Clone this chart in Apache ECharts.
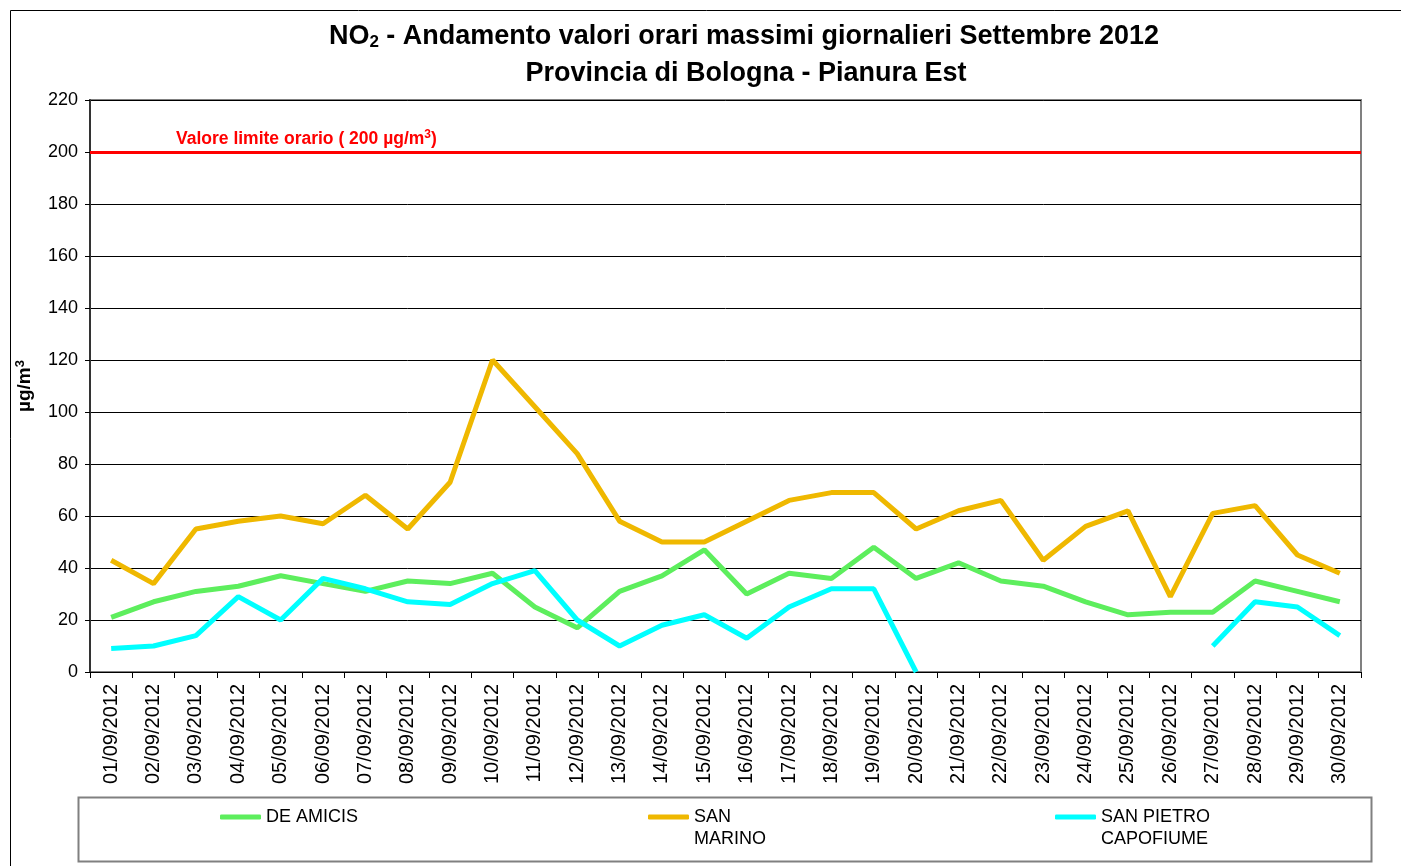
<!DOCTYPE html>
<html>
<head>
<meta charset="utf-8">
<script src="https://cdn.jsdelivr.net/npm/echarts@6/dist/echarts.min.js"></script>
<style>
  html, body { margin: 0; padding: 0; background: #fff; }
  #chart { width: 1401px; height: 866px; }
</style>
</head>
<body>
<div id="chart"></div>
<script>
// giorni di settembre 2012
const categories = [
  '01/09/2012', '02/09/2012', '03/09/2012', '04/09/2012', '05/09/2012',
  '06/09/2012', '07/09/2012', '08/09/2012', '09/09/2012', '10/09/2012',
  '11/09/2012', '12/09/2012', '13/09/2012', '14/09/2012', '15/09/2012',
  '16/09/2012', '17/09/2012', '18/09/2012', '19/09/2012', '20/09/2012',
  '21/09/2012', '22/09/2012', '23/09/2012', '24/09/2012', '25/09/2012',
  '26/09/2012', '27/09/2012', '28/09/2012', '29/09/2012', '30/09/2012'
];
const deAmicis = [21, 27, 31, 33, 37, 34, 31, 35, 34, 38, 25, 17, 31, 37, 47, 30, 38, 36, 48, 36, 42, 35, 33, 27, 22, 23, 23, 35, 31, 27];
const sanMarino = [43, 34, 55, 58, 60, 57, 68, 55, 73, 120, 102, 84, 58, 50, 50, 58, 66, 69, 69, 55, 62, 66, 43, 56, 62, 29, 61, 64, 45, 38];
const sanPietro = [9, 10, 14, 29, 20, 36, 32, 27, 26, 34, 39, 20, 10, 18, 22, 13, 25, 32, 32, 0, null, null, null, null, null, null, 10, 27, 25, 14];
const limiteOrario = 200;
const yTicks = { min: 0, max: 220, step: 20 };

const FONT = '"Liberation Sans", Arial, sans-serif';

const chart = echarts.init(document.getElementById('chart'));

// legenda: testo su due righe con la prima allineata al simbolo
const legendCommon = {
  padding: 0,
  icon: 'roundRect', itemWidth: 41, itemHeight: 5, itemGap: 3,
  textStyle: { fontFamily: FONT, fontSize: 18, color: '#000', lineHeight: 22 }
};

const option = {
  backgroundColor: '#fff',
  animation: false,
  textStyle: { fontFamily: FONT, color: '#000' },
  title: [
    {
      text: '{b|NO}{sub|2}{b| - Andamento valori orari massimi giornalieri Settembre 2012}',
      left: 744,
      top: 22,
      padding: 0,
      textAlign: 'center',
      textStyle: {
        rich: {
          b: { fontFamily: FONT, fontWeight: 'bold', fontSize: 27, color: '#000' },
          sub: { fontFamily: FONT, fontWeight: 'bold', fontSize: 17, color: '#000', verticalAlign: 'bottom', padding: [12, 0, 0, 0] }
        }
      }
    },
    {
      text: 'Provincia di Bologna - Pianura Est',
      left: 746,
      top: 60,
      padding: 0,
      textAlign: 'center',
      textStyle: { fontFamily: FONT, fontWeight: 'bold', fontSize: 27, color: '#000' }
    }
  ],
  grid: {
    left: 90,
    right: 40,
    top: 100,
    bottom: 194,
    show: true,
    borderColor: '#808080',
    borderWidth: 2,
    backgroundColor: '#fff'
  },
  legend: [
    Object.assign({}, legendCommon, {
      data: ['DE AMICIS'],
      left: 220, top: 806
    }),
    Object.assign({}, legendCommon, {
      data: ['SAN MARINO'],
      left: 648, top: 784,
      formatter: n => '\u00a0\n' + n.replace(' ', '\n')
    }),
    Object.assign({}, legendCommon, {
      data: ['SAN PIETRO CAPOFIUME'],
      left: 1055, top: 784,
      formatter: n => '\u00a0\n' + n.replace('O C', 'O\nC')
    })
  ],
  xAxis: {
    type: 'category',
    data: categories,
    boundaryGap: true,
    axisLine: { lineStyle: { color: '#000', width: 1 } },
    axisTick: { show: true, interval: 0, length: 6, lineStyle: { color: '#000' } },
    axisLabel: { interval: 0, rotate: 90, fontFamily: FONT, fontSize: 20, color: '#000', margin: 12 },
    splitLine: { show: false }
  },
  yAxis: {
    type: 'value',
    min: yTicks.min,
    max: yTicks.max,
    interval: yTicks.step,
    name: 'µg/m{sup|3}',
    nameLocation: 'middle',
    nameRotate: 90,
    nameGap: 54,
    nameTextStyle: {
      fontFamily: FONT, fontWeight: 'bold', fontSize: 19, color: '#000',
      rich: { sup: { fontFamily: FONT, fontWeight: 'bold', fontSize: 13, color: '#000', verticalAlign: 'top', padding: [0, 0, 9, 0] } }
    },
    axisLine: { show: true, lineStyle: { color: '#333', width: 2 } },
    axisTick: { show: true, length: 5, lineStyle: { color: '#000' } },
    axisLabel: { fontFamily: FONT, fontSize: 18, color: '#000', margin: 12 },
    splitLine: { show: true, lineStyle: { color: '#000', width: 1 } }
  },
  series: [
    {
      name: 'DE AMICIS',
      type: 'line',
      data: deAmicis,
      showSymbol: false,
      symbol: 'none',
      lineStyle: { color: '#5DEE5D', width: 5 },
      itemStyle: { color: '#5DEE5D' },
      markLine: {
        silent: true,
        symbol: 'none',
        lineStyle: { color: '#FF0000', width: 3, type: 'solid' },
        label: {
          show: true,
          position: 'insideStartTop',
          distance: [86, 3],
          formatter: 'Valore limite orario ( 200 µg/m{sup|3})',
          fontFamily: FONT, fontWeight: 'bold', fontSize: 17.5, color: '#FF0000',
          rich: { sup: { fontFamily: FONT, fontWeight: 'bold', fontSize: 12, color: '#FF0000', verticalAlign: 'top', padding: [0, 0, 8, 0] } }
        },
        data: [{ yAxis: limiteOrario }]
      }
    },
    {
      name: 'SAN MARINO',
      type: 'line',
      data: sanMarino,
      showSymbol: false,
      symbol: 'none',
      lineStyle: { color: '#EFB800', width: 5 },
      itemStyle: { color: '#EFB800' }
    },
    {
      name: 'SAN PIETRO CAPOFIUME',
      type: 'line',
      data: sanPietro,
      connectNulls: false,
      showSymbol: false,
      symbol: 'none',
      lineStyle: { color: '#00FFFF', width: 5 },
      itemStyle: { color: '#00FFFF' }
    }
  ],
  graphic: [
    {
      type: 'rect',
      left: 8, top: 8,
      shape: { width: 1400, height: 900 },
      style: { fill: 'none', stroke: '#000', lineWidth: 1 },
      z: -10
    },
    {
      type: 'rect',
      left: 76, top: 795,
      shape: { width: 1293, height: 64 },
      style: { fill: 'none', stroke: '#808080', lineWidth: 2 },
      z: -5
    }
  ]
};

chart.setOption(option);
</script>
</body>
</html>
